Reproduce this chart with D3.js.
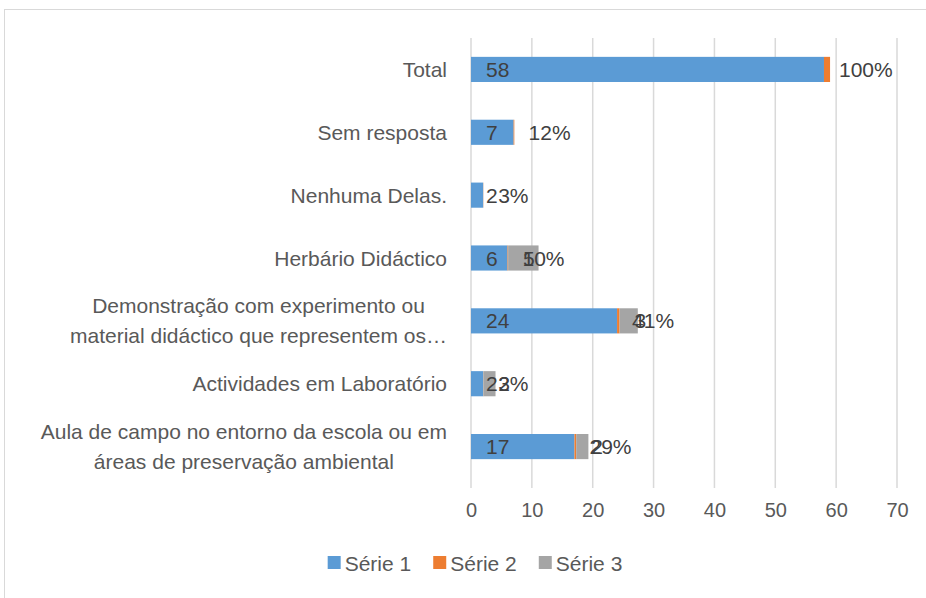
<!doctype html>
<html lang="pt">
<head>
    <meta charset="UTF-8">
    <title>Gráfico</title>
    <script src="https://cdn.jsdelivr.net/npm/d3@7"></script>
    <style>
        body { margin: 0; background: #fff; }
        svg { display: block; }
        text { font-family: "Liberation Sans", Arial, sans-serif; }
        .cat { font-size: 21px; fill: #595959; }
        .tick text { font-size: 20px; fill: #595959; }
        .lbl { font-size: 21px; fill: #404040; }
        .legend text { font-size: 21px; fill: #595959; }
    </style>
</head>
<body>
<svg id="chart" width="926" height="598"></svg>
<script>
    // categories top to bottom, each one a list of lines
    var categories = [
        ["Total"],
        ["Sem resposta"],
        ["Nenhuma Delas."],
        ["Herbário Didáctico"],
        ["Demonstração com experimento ou", "material didáctico que representem os…"],
        ["Actividades em Laboratório"],
        ["Aula de campo no entorno da escola ou em", "áreas de preservação ambiental"]
    ];
    var serie1 = [58, 7, 2, 6, 24, 2, 17];
    var serie2 = [1.00, 0.12, 0.03, 0.10, 0.41, 0.03, 0.29];
    var serie3 = [null, null, null, 5, 3, 2, 2];
    var seriesNames = ["Série 1", "Série 2", "Série 3"];
    var xTicks = [0, 10, 20, 30, 40, 50, 60, 70];

    var colors = ["#5b9bd5", "#ed7d31", "#a5a5a5"];
    var width = 926, height = 598;
    var plot = {left: 471, right: 897, top: 38, bottom: 478, gridBottom: 488};

    var svg = d3.select("#chart");

    // outer chart border (cut off on the right and bottom)
    svg.append("rect")
        .attr("x", 4.5).attr("y", 9.5)
        .attr("width", 1000).attr("height", 1000)
        .attr("fill", "none")
        .attr("stroke", "#d9d9d9");

    var keys = categories.map(function (c, i) { return "c" + i; });
    var rows = keys.map(function (k, i) {
        return {key: k, lines: categories[i], v: [serie1[i], serie2[i], serie3[i]]};
    });

    var x = d3.scaleLinear().domain([0, 70]).range([plot.left, plot.right]);
    var y = d3.scaleBand().domain(keys)
        .range([plot.top, plot.bottom])
        .paddingInner(0.6).paddingOuter(0.3);

    // gridlines
    svg.append("g")
        .selectAll("line")
        .data(xTicks)
        .enter()
        .append("line")
        .attr("x1", function (d) { return x(d); })
        .attr("x2", function (d) { return x(d); })
        .attr("y1", plot.top)
        .attr("y2", plot.gridBottom)
        .attr("stroke", "#d9d9d9")
        .attr("stroke-width", 1.5);

    // x axis labels
    var xAxis = d3.axisBottom(x).tickValues(xTicks).tickSize(0).tickPadding(25);
    var gx = svg.append("g")
        .attr("transform", "translate(0," + plot.bottom + ")")
        .call(xAxis);
    gx.select(".domain").remove();
    gx.selectAll(".tick text").attr("font-family", null).attr("font-size", null).attr("fill", null);

    // stacked bars
    var bars = svg.append("g").selectAll("g.row")
        .data(rows)
        .enter()
        .append("g")
        .attr("class", "row");

    bars.each(function (r) {
        var g = d3.select(this);
        var start = 0;
        r.v.forEach(function (val, s) {
            if (val === null) return;
            g.append("rect")
                .attr("x", x(start))
                .attr("y", y(r.key))
                .attr("width", x(start + val) - x(start))
                .attr("height", y.bandwidth())
                .attr("fill", colors[s]);
            start += val;
        });
    });

    // data labels, "inside base" of each segment
    bars.each(function (r) {
        var g = d3.select(this);
        var start = 0;
        var cy = y(r.key) + y.bandwidth() / 2;
        r.v.forEach(function (val, s) {
            if (val === null) return;
            g.append("text")
                .attr("class", "lbl")
                .attr("x", x(start) + 15)
                .attr("y", cy)
                .attr("dy", "0.36em")
                .text(s === 1 ? d3.format(".0%")(val) : val);
            start += val;
        });
    });

    // category labels
    var labelRight = 447;
    var cats = svg.append("g").selectAll("text")
        .data(rows)
        .enter()
        .append("text")
        .attr("class", "cat");

    cats.each(function (r) {
        var t = d3.select(this);
        var cy = y(r.key) + y.bandwidth() / 2;
        var lh = 30;
        if (r.lines.length === 1) {
            t.attr("x", labelRight).attr("y", cy).attr("dy", "0.36em")
                .attr("text-anchor", "end").text(r.lines[0]);
        } else {
            var spans = r.lines.map(function (line, i) {
                return t.append("tspan")
                    .attr("y", cy + (i - (r.lines.length - 1) / 2) * lh)
                    .attr("dy", "0.36em")
                    .text(line);
            });
            var maxW = d3.max(spans, function (sp) { return sp.node().getComputedTextLength(); });
            var center = labelRight - maxW / 2;
            t.attr("text-anchor", "middle");
            spans.forEach(function (sp) { sp.attr("x", center); });
        }
    });

    // legend
    var legend = svg.append("g").attr("class", "legend");
    var lx = 0;
    seriesNames.forEach(function (name, i) {
        var item = legend.append("g").attr("transform", "translate(" + lx + ",0)");
        item.append("rect")
            .attr("x", 0).attr("y", -7)
            .attr("width", 13).attr("height", 13)
            .attr("fill", colors[i]);
        var tx = item.append("text")
            .attr("x", 17).attr("y", 0).attr("dy", "0.36em")
            .text(name);
        lx += 17 + tx.node().getComputedTextLength() + 22;
    });
    var legendW = lx - 22;
    legend.attr("transform", "translate(" + (width / 2 + 12 - legendW / 2) + ",563)");
</script>
</body>
</html>
